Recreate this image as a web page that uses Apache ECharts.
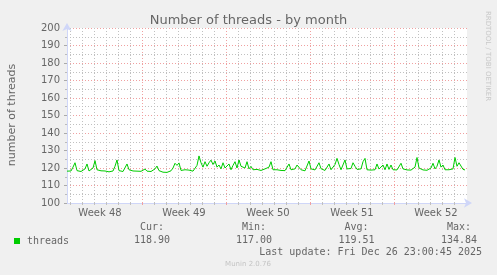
<!DOCTYPE html>
<html><head><meta charset="utf-8">
<script src="https://cdn.jsdelivr.net/npm/echarts@6/dist/echarts.min.js"></script>
<style>html,body{margin:0;padding:0;background:#f0f0f0}#c{width:497px;height:275px}</style>
</head><body><div id="c"></div>
<script>
const titleText = 'Number of threads - by month';
const yAxisName = 'number of threads';
const seriesName = 'threads';
const stepHours = 4;
const threads = [
118.2,118.0,118.3,120.5,123.0,118.5,117.8,118.0,118.2,119.5,
122.3,118.3,118.0,120.0,124.2,119.0,118.6,118.4,118.0,118.3,
118.1,117.8,118.2,118.3,121.0,124.6,118.5,118.2,118.0,118.4,
122.3,119.0,118.6,118.3,118.0,118.2,118.4,118.1,118.6,119.4,
118.2,117.9,118.0,118.3,119.5,121.1,118.5,118.0,117.6,117.8,
117.5,118.2,118.4,120.0,122.7,121.5,122.9,118.6,118.3,119.0,
118.4,118.8,118.5,118.2,118.6,121.5,126.9,123.0,120.5,123.6,
121.0,123.0,124.5,122.0,124.0,120.5,121.7,119.5,123.0,120.0,
118.9,122.3,119.0,121.5,123.6,120.0,124.6,121.0,122.0,120.0,
123.6,119.5,120.9,119.0,118.8,119.2,118.9,118.6,118.9,119.5,
119.0,120.5,123.6,119.0,118.7,119.0,118.8,118.6,118.9,118.5,
119.4,122.3,119.0,118.6,119.5,121.7,122.3,119.0,118.5,118.4,
119.5,124.0,119.5,118.4,118.9,118.6,123.0,119.6,118.8,118.6,
119.2,122.3,119.0,118.8,122.0,125.5,122.0,119.0,119.5,124.6,
119.5,118.8,119.7,123.0,121.0,119.2,118.8,119.5,123.6,125.5,
119.0,118.4,118.8,118.6,119.0,122.3,119.4,120.0,121.7,119.0,
122.3,119.2,121.7,119.0,118.6,118.9,119.4,122.7,119.5,118.7,
118.9,118.6,118.8,119.0,120.5,126.0,120.0,119.2,118.9,119.0,
118.7,119.2,120.0,122.7,119.5,121.0,124.6,120.5,121.7,119.0,
118.8,119.0,118.7,119.5,126.0,121.0,123.0,122.0,119.2,118.9
];
const yMin = 100, yMax = 200, yInterval = 10;
const xMin = 0, xMax = 800;
const weekLabels = ['Week 48','Week 49','Week 50','Week 51','Week 52'];
const weekLabelHours = [66,234,402,570,738];
const weekStartHours = [150,318,486,654];
const dayLineHours = [6,30,54,78,102,126,150,174,198,222,246,270,294,318,342,366,390,414,438,462,486,510,534,558,582,606,630,654,678,702,726,750,774];
const statsLabels = ['Cur:','Min:','Avg:','Max:'];
const statsValues = [118.90,117.00,119.51,134.84];
const lastUpdate = 'Last update: Fri Dec 26 23:00:45 2025';
const versionText = 'Munin 2.0.76';
const watermark = 'RRDTOOL / TOBI OETIKER';

const GREEN = '#00cc00';
const FONT = '"DejaVu Sans", sans-serif';
const MONO = '"DejaVu Sans Mono", monospace';
const AXIS = '#cfd6f8';
const GRID = '#c0c0c0';
const MGRID = '#f0a0a0';
const TXT = '#666666';
const statsX = [152, 254, 356.5, 459];

const chart = echarts.init(document.getElementById('c'), null, {renderer:'canvas'});
const graphic = [];
statsLabels.forEach((t,i)=>{
  graphic.push({type:'text', x:statsX[i], y:227, style:{text:t, align:'center', verticalAlign:'middle', font:'10px '+MONO, fill:TXT}});
  graphic.push({type:'text', x:statsX[i], y:240, style:{text:statsValues[i].toFixed(2), align:'center', verticalAlign:'middle', font:'10px '+MONO, fill:TXT}});
});
graphic.push({type:'text', x:482, y:252, style:{text:lastUpdate, align:'right', verticalAlign:'middle', font:'10px '+MONO, fill:TXT}});
graphic.push({type:'text', x:248, y:264, style:{text:versionText, align:'center', verticalAlign:'middle', font:'7px '+FONT, fill:'#c4c4c4'}});
graphic.push({type:'text', x:488, y:56, rotation:-Math.PI/2, style:{text:watermark, align:'center', verticalAlign:'middle', font:'7px '+FONT, fill:'#c8c8c8'}});
graphic.push({type:'text', x:12, y:115, rotation:Math.PI/2, style:{text:yAxisName, align:'center', verticalAlign:'middle', font:'11px '+FONT, fill:TXT}});

chart.setOption({
  animation:false,
  backgroundColor:'#f0f0f0',
  title:{text:titleText, left:'center', top:9, textStyle:{fontFamily:FONT, fontSize:13, fontWeight:'normal', color:TXT}},
  grid:{left:67, top:28, width:400, height:175, show:true, backgroundColor:'#ffffff', borderWidth:0},
  legend:{data:[{name:seriesName, icon:'rect', itemStyle:{color:GREEN}}], left:14, top:236, itemWidth:6, itemHeight:6, padding:0,
    textStyle:{fontFamily:MONO, fontSize:10, color:TXT, padding:[0,0,0,2]}},
  xAxis:[
    {type:'value', min:xMin, max:xMax, axisLine:{show:false}, axisLabel:{show:false},
     axisTick:{show:true, customValues:dayLineHours, length:2, inside:false, lineStyle:{color:GRID}},
     splitLine:{show:true, lineStyle:{color:GRID, type:[1,2], width:1}}},
    {type:'value', min:xMin, max:xMax, position:'bottom',
     axisLine:{show:true, lineStyle:{color:AXIS, width:1}, symbol:['none','arrow'], symbolSize:[7,8], symbolOffset:[0,5]},
     axisTick:{show:true, customValues:weekStartHours, length:2, lineStyle:{color:MGRID}},
     axisLabel:{show:true, customValues:weekLabelHours, margin:5, fontFamily:FONT, fontSize:10, color:TXT,
       formatter:function(v){ const k = weekLabelHours.indexOf(v); return k>=0 ? weekLabels[k] : ''; }},
     splitLine:{show:true, lineStyle:{color:MGRID, type:[1,2], width:1}}}
  ],
  yAxis:{type:'value', min:yMin, max:yMax, interval:yInterval,
    axisLine:{show:true, lineStyle:{color:AXIS, width:1}, symbol:['none','arrow'], symbolSize:[7,8], symbolOffset:[0,5]},
    axisTick:{show:true, length:3, lineStyle:{color:'#aaaaaa'}},
    minorTick:{show:true, splitNumber:2, length:2, lineStyle:{color:'#bbbbbb'}},
    axisLabel:{margin:7, fontFamily:FONT, fontSize:10, color:TXT},
    splitLine:{show:true, lineStyle:{color:MGRID, type:[1,2], width:1}},
    minorSplitLine:{show:true, lineStyle:{color:GRID, type:[1,2], width:1}}},
  series:[{name:seriesName, type:'line', xAxisIndex:1, showSymbol:false, symbol:'none',
    data:threads.map((v,i)=>[i*stepHours, v]), lineStyle:{color:GREEN, width:1}, itemStyle:{color:GREEN}, z:5}],
  graphic:graphic
});
</script></body></html>
